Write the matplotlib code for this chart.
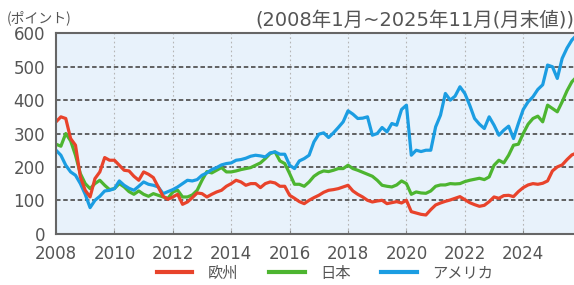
import numpy as np
import matplotlib
matplotlib.use("Agg")
import matplotlib.pyplot as plt

plt.rcParams['font.family'] = ['DejaVu Sans', 'Noto Sans CJK JP']

# bimonthly readings (Jan, Mar, May, Jul, Sep, Nov), 2008-2025
europe = [
    335, 350, 345, 285, 265, 170,   # 2008
    130, 110, 165, 185, 228, 220,   # 2009
    220, 205, 190, 188, 172, 160,   # 2010
    185, 178, 168, 140, 112, 103,   # 2011
    110, 118, 88, 95, 108, 122,     # 2012
    120, 110, 118, 125, 130, 142,   # 2013
    150, 160, 155, 145, 150, 150,   # 2014
    138, 150, 155, 152, 142, 142,   # 2015
    115, 106, 96, 90, 100, 108,     # 2016
    115, 124, 130, 132, 135, 140,   # 2017
    145, 128, 118, 110, 100, 95,    # 2018
    98, 100, 90, 93, 96, 92,        # 2019
    100, 66, 62, 58, 56, 72,        # 2020
    86, 92, 97, 101, 106, 111,      # 2021
    102, 93, 87, 82, 85, 96,        # 2022
    110, 106, 114, 115, 111, 126,   # 2023
    138, 146, 150, 148, 151, 158,   # 2024
    188, 200, 206, 222, 236, 242,   # 2025
]
japan = [
    268, 262, 300, 278, 235, 180,
    150, 135, 150, 160, 145, 132,
    135, 150, 140, 126, 118, 128,
    118, 112, 120, 115, 110, 106,
    125, 130, 110, 110, 116, 130,
    160, 186, 182, 190, 198, 185,
    185, 188, 192, 195, 198, 205,
    212, 225, 240, 245, 218, 210,
    180, 148, 148, 142, 155, 172,
    182, 188, 186, 190, 195, 195,
    205, 195, 190, 184, 178, 172,
    160, 145, 142, 140, 146, 158,
    150, 118, 125, 122, 121, 128,
    142, 146, 146, 150, 149, 150,
    156, 160, 163, 166, 162, 170,
    205, 220, 212, 235, 265, 268,
    300, 328, 345, 352, 335, 385,
    375, 365, 395, 428, 455, 470,
]
usa = [
    250, 235, 205, 185, 175, 150,
    118, 78, 100, 112, 128, 130,
    135, 158, 145, 136, 130, 142,
    155, 148, 145, 140, 120, 126,
    132, 140, 150, 160, 158, 162,
    175, 182, 192, 198, 206, 210,
    212, 220, 222, 226, 232, 235,
    233, 230, 242, 245, 238, 238,
    205, 195, 218, 225, 235, 275,
    298, 302, 288, 302, 318, 335,
    368, 358, 345, 346, 350, 295,
    300, 318, 305, 330, 325, 372,
    385, 235, 250, 246, 250, 250,
    320, 355, 420, 400, 412, 440,
    420, 385, 345, 328, 315, 350,
    325, 295, 310, 322, 285, 330,
    372, 395, 410, 432, 446, 505,
    500, 465, 525, 556, 580, 595,
]
labels = ['欧州', '日本', 'アメリカ']
colors = ['#e8432b', '#4db530', '#1b9de2']
year_ticks = list(range(2008, 2026, 2))

x = 2008 + np.arange(len(europe)) * 2 / 12

fig = plt.figure(figsize=(5.74, 2.85), dpi=100)
ax = fig.add_axes([0.0976, 0.18, 0.9157, 0.703])
ax.set_facecolor('#e8f2fb')

series = {'欧州': europe, '日本': japan, 'アメリカ': usa}
handles = {}
for name in ['日本', 'アメリカ', '欧州']:
    c = colors[labels.index(name)]
    handles[name], = ax.plot(x, series[name], color=c, lw=2.3, solid_joinstyle='round')

ax.set_xlim(2008, 2026)
ax.set_ylim(0, 600)
ax.set_yticks(range(0, 700, 100))
ax.set_xticks(year_ticks)

for v in range(100, 600, 100):
    ax.axhline(v, color='#555555', lw=1.3, ls=(0, (2.5, 1.5)), zorder=1)
for yr in year_ticks[1:]:
    ax.axvline(yr, color='#b5b5b5', lw=0.8, ls=(0, (1.5, 2.5)), zorder=1)

for s in ['left', 'top', 'bottom']:
    ax.spines[s].set_color('#666666')
    ax.spines[s].set_linewidth(1.5)
ax.spines['right'].set_visible(False)

ax.tick_params(axis='y', length=0, pad=8, labelsize=12, labelcolor='#555555')
ax.tick_params(axis='x', direction='in', length=3, color='#888888', pad=8,
               labelsize=12, labelcolor='#555555')

fig.text(0.012, 0.937, '(ポイント)', fontsize=10, color='#555555',
         ha='left', va='center', family=['Noto Sans CJK JP'])
fig.text(1.0, 0.93, '(2008年1月~2025年11月(月末値))', fontsize=14,
         color='#555555', ha='right', va='center')

fig.legend([handles[n] for n in labels], labels, loc='center',
           bbox_to_anchor=(0.566, 0.042), ncol=3, frameon=False,
           handlelength=2.35, handletextpad=1.0,
           columnspacing=2.0, labelcolor='#555555',
           prop={'family': ['Noto Sans CJK JP'], 'size': 11})
for line in fig.legends[0].get_lines():
    line.set_linewidth(3)

fig.savefig('out.png', dpi=100)
